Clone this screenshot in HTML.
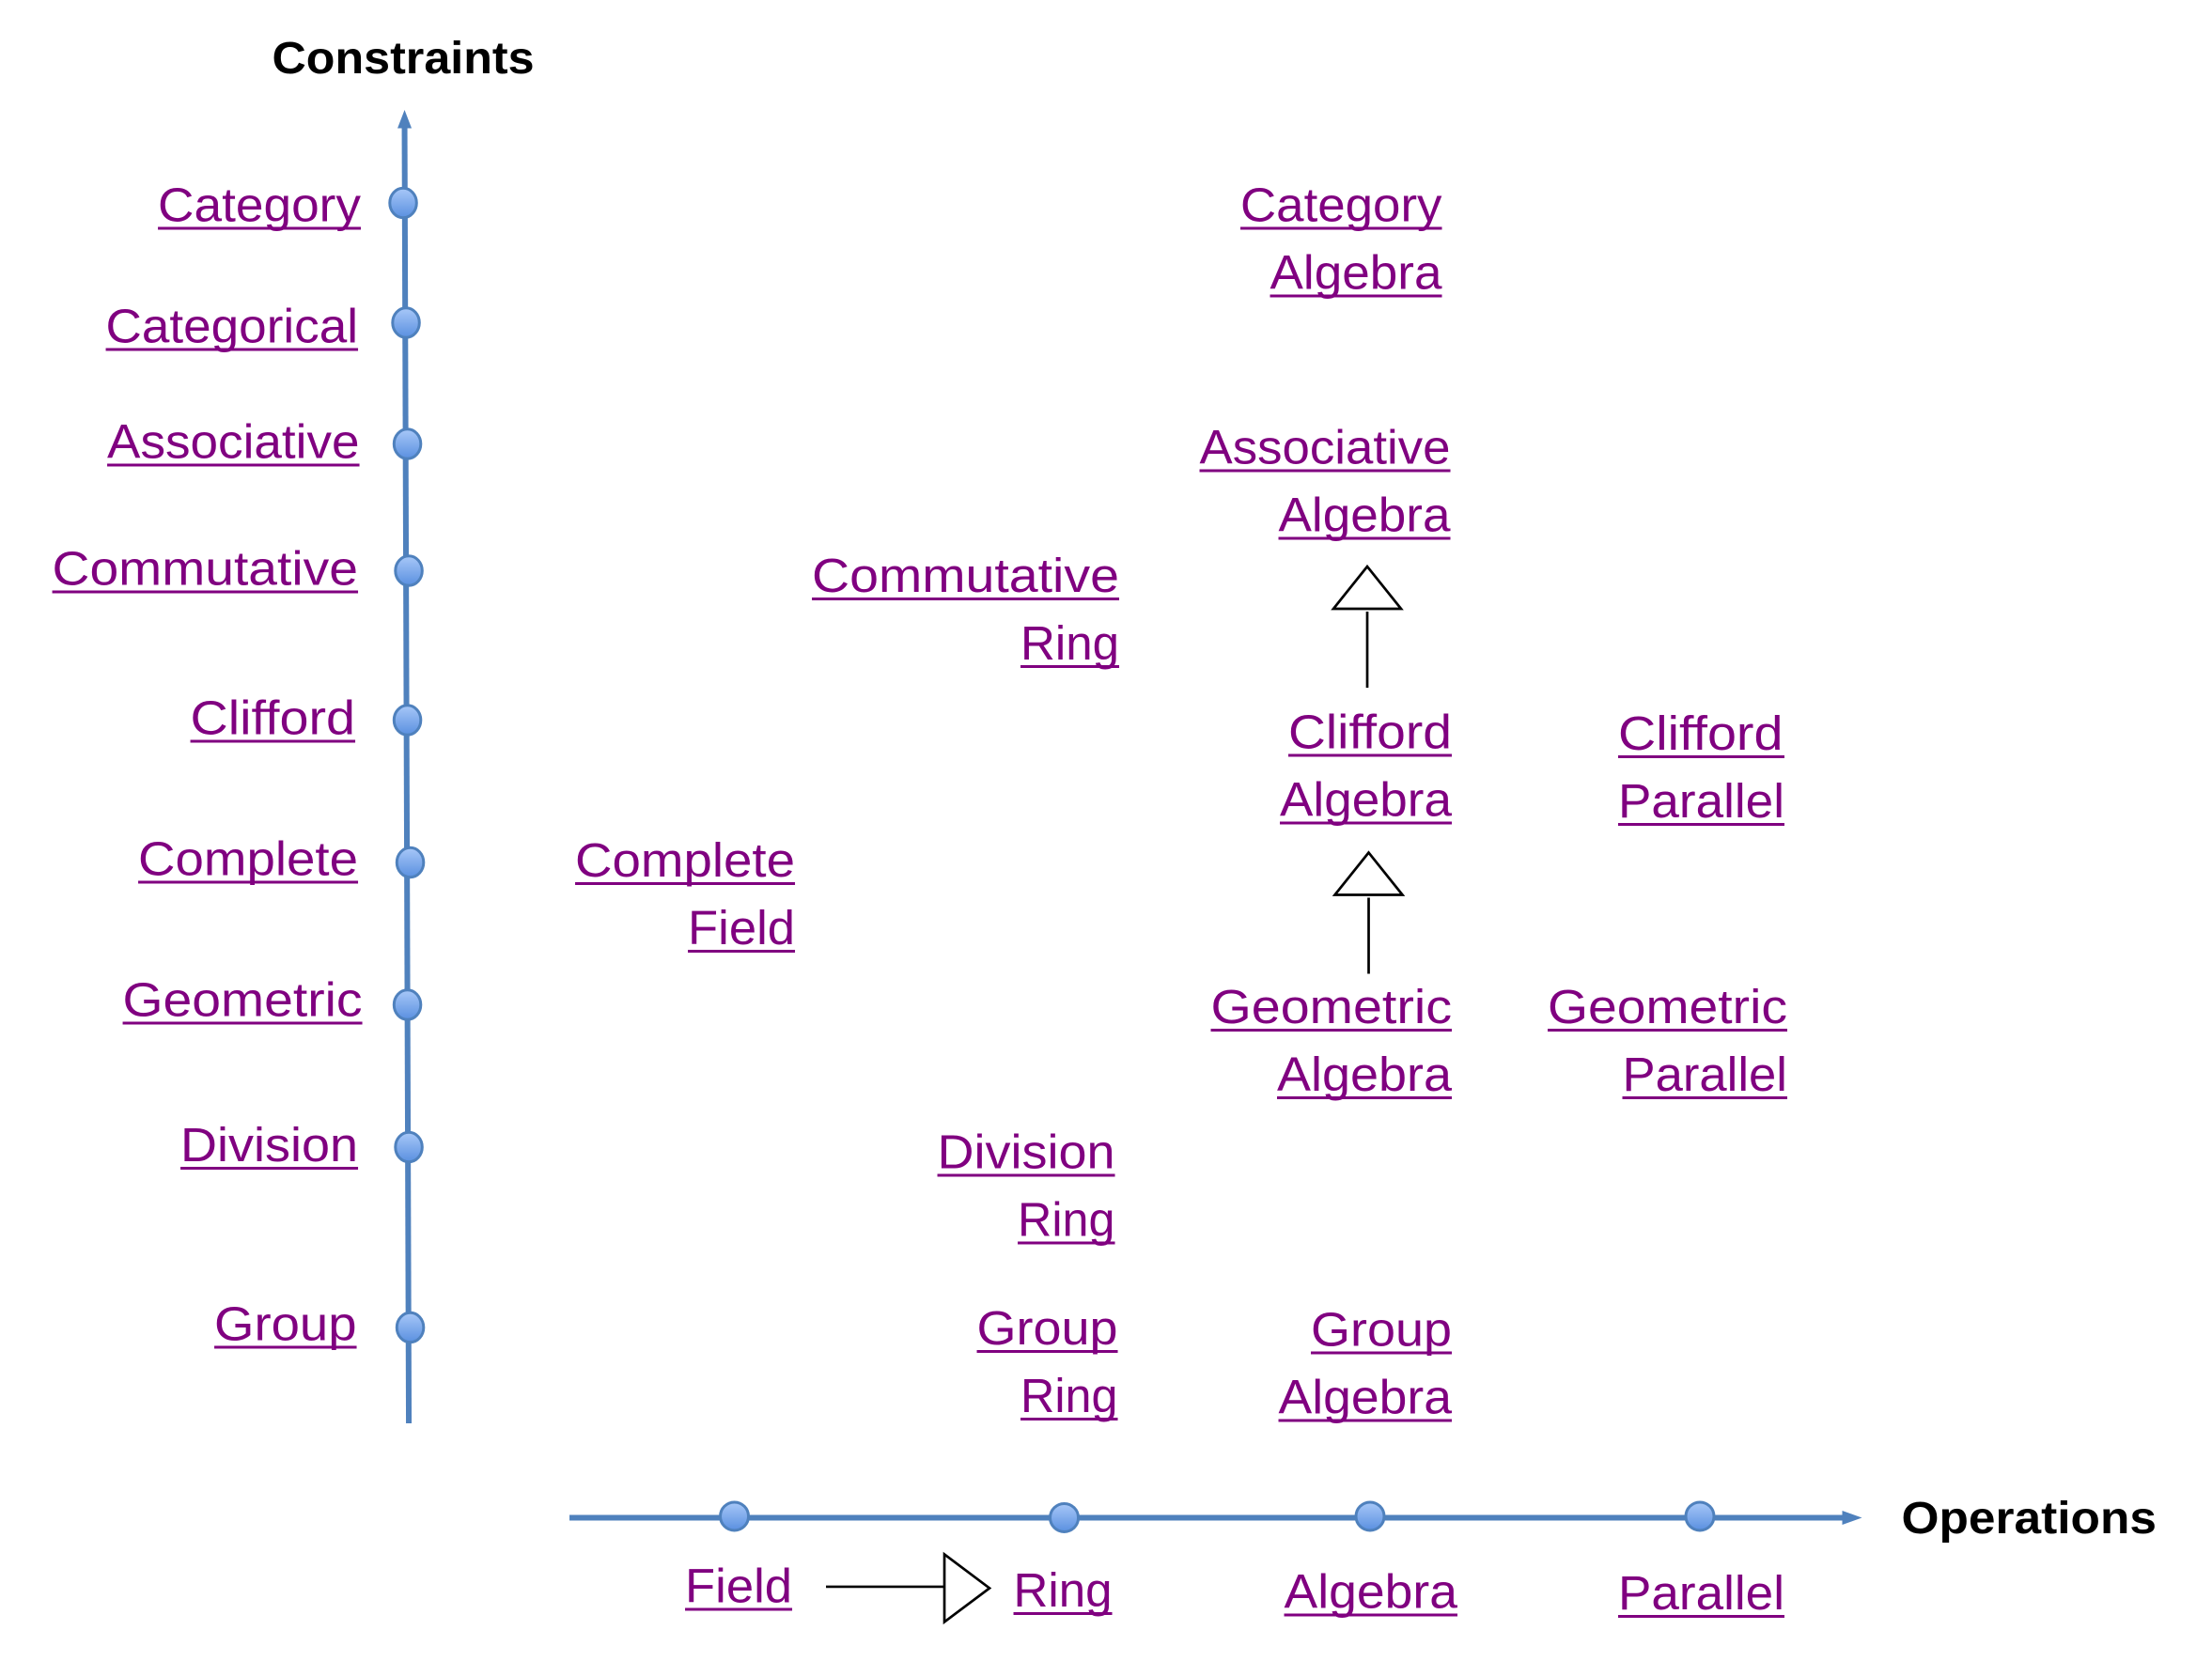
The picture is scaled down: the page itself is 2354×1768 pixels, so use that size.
<!DOCTYPE html>
<html><head><meta charset="utf-8"><style>
html,body{margin:0;padding:0;background:#fff;}
svg{display:block;}
.t{font-family:"Liberation Sans",sans-serif;font-size:34px;fill:#800080;}
.b{font-family:"Liberation Sans",sans-serif;font-size:32px;font-weight:bold;fill:#000;}
</style></head><body>
<svg width="2354" height="1768" viewBox="0 0 1569.3 1178.7" xmlns="http://www.w3.org/2000/svg">
<defs>
<linearGradient id="g" x1="0" y1="0" x2="0" y2="1"><stop offset="0" stop-color="#a8c8f8"/><stop offset="1" stop-color="#5a90e0"/></linearGradient>
</defs>
<text class="b" x="193" y="52" textLength="186" lengthAdjust="spacingAndGlyphs">Constraints</text>
<text class="b" x="1349" y="1088" textLength="181" lengthAdjust="spacingAndGlyphs">Operations</text>
<!-- vertical axis -->
<line x1="287" y1="90" x2="290" y2="1010" stroke="#4f81bd" stroke-width="4"/>
<polygon points="287,78 282,91 292,91" fill="#4f81bd"/>
<!-- horizontal axis -->
<line x1="404" y1="1077" x2="1308" y2="1077" stroke="#4f81bd" stroke-width="4"/>
<polygon points="1321,1077 1307,1072 1307,1082" fill="#4f81bd"/>
<g fill="url(#g)" stroke="#4f81bd" stroke-width="2">
<ellipse cx="286" cy="144" rx="9.5" ry="10.5"/>
<ellipse cx="288" cy="229" rx="9.5" ry="10.5"/>
<ellipse cx="289" cy="315" rx="9.5" ry="10.5"/>
<ellipse cx="290" cy="405" rx="9.5" ry="10.5"/>
<ellipse cx="289" cy="511" rx="9.5" ry="10.5"/>
<ellipse cx="291" cy="612" rx="9.5" ry="10.5"/>
<ellipse cx="289" cy="713" rx="9.5" ry="10.5"/>
<ellipse cx="290" cy="814" rx="9.5" ry="10.5"/>
<ellipse cx="291" cy="942" rx="9.5" ry="10.5"/>
<ellipse cx="521" cy="1076" rx="10" ry="10"/>
<ellipse cx="755" cy="1077" rx="10" ry="10"/>
<ellipse cx="972" cy="1076" rx="10" ry="10"/>
<ellipse cx="1206" cy="1076" rx="10" ry="10"/>
</g>
<!-- connectors -->
<g stroke="#000" stroke-width="1.8" fill="none">
<line x1="586" y1="1126" x2="670" y2="1126"/>
<polygon points="670,1103 702,1127 670,1151" fill="#fff"/>
<polygon points="970,402 946,432 994,432" fill="#fff"/>
<line x1="970" y1="434" x2="970" y2="488"/>
<polygon points="971,605 947,635 995,635" fill="#fff"/>
<line x1="971" y1="637" x2="971" y2="691"/>
</g>
<g class="t">
<!-- label: x1 x2 baseline -->
<text x="112" y="157" textLength="144" lengthAdjust="spacingAndGlyphs">Category</text>
<text x="75" y="243" textLength="179" lengthAdjust="spacingAndGlyphs">Categorical</text>
<text x="76" y="325" textLength="179" lengthAdjust="spacingAndGlyphs">Associative</text>
<text x="37" y="415" textLength="217" lengthAdjust="spacingAndGlyphs">Commutative</text>
<text x="135" y="521" textLength="117" lengthAdjust="spacingAndGlyphs">Clifford</text>
<text x="98" y="621" textLength="156" lengthAdjust="spacingAndGlyphs">Complete</text>
<text x="87" y="721" textLength="170" lengthAdjust="spacingAndGlyphs">Geometric</text>
<text x="128" y="824" textLength="126" lengthAdjust="spacingAndGlyphs">Division</text>
<text x="152" y="951" textLength="101" lengthAdjust="spacingAndGlyphs">Group</text>

<text x="880" y="157" textLength="143" lengthAdjust="spacingAndGlyphs">Category</text>
<text x="901" y="205" textLength="122" lengthAdjust="spacingAndGlyphs">Algebra</text>
<text x="851" y="329" textLength="178" lengthAdjust="spacingAndGlyphs">Associative</text>
<text x="907" y="377" textLength="122" lengthAdjust="spacingAndGlyphs">Algebra</text>
<text x="576" y="420" textLength="218" lengthAdjust="spacingAndGlyphs">Commutative</text>
<text x="724" y="468" textLength="70" lengthAdjust="spacingAndGlyphs">Ring</text>
<text x="914" y="531" textLength="116" lengthAdjust="spacingAndGlyphs">Clifford</text>
<text x="908" y="579" textLength="122" lengthAdjust="spacingAndGlyphs">Algebra</text>
<text x="1148" y="532" textLength="117" lengthAdjust="spacingAndGlyphs">Clifford</text>
<text x="1148" y="580" textLength="118" lengthAdjust="spacingAndGlyphs">Parallel</text>
<text x="408" y="622" textLength="156" lengthAdjust="spacingAndGlyphs">Complete</text>
<text x="488" y="670" textLength="76" lengthAdjust="spacingAndGlyphs">Field</text>
<text x="859" y="726" textLength="171" lengthAdjust="spacingAndGlyphs">Geometric</text>
<text x="906" y="774" textLength="124" lengthAdjust="spacingAndGlyphs">Algebra</text>
<text x="1098" y="726" textLength="170" lengthAdjust="spacingAndGlyphs">Geometric</text>
<text x="1151" y="774" textLength="117" lengthAdjust="spacingAndGlyphs">Parallel</text>
<text x="665" y="829" textLength="126" lengthAdjust="spacingAndGlyphs">Division</text>
<text x="722" y="877" textLength="69" lengthAdjust="spacingAndGlyphs">Ring</text>
<text x="693" y="954" textLength="100" lengthAdjust="spacingAndGlyphs">Group</text>
<text x="724" y="1002" textLength="69" lengthAdjust="spacingAndGlyphs">Ring</text>
<text x="930" y="955" textLength="100" lengthAdjust="spacingAndGlyphs">Group</text>
<text x="907" y="1003" textLength="123" lengthAdjust="spacingAndGlyphs">Algebra</text>

<text x="486" y="1137" textLength="76" lengthAdjust="spacingAndGlyphs">Field</text>
<text x="719" y="1140" textLength="70" lengthAdjust="spacingAndGlyphs">Ring</text>
<text x="911" y="1141" textLength="123" lengthAdjust="spacingAndGlyphs">Algebra</text>
<text x="1148" y="1142" textLength="118" lengthAdjust="spacingAndGlyphs">Parallel</text>
</g>
<!-- underlines -->
<g stroke="#800080" stroke-width="2">
<line x1="112" y1="162" x2="256" y2="162"/>
<line x1="75" y1="248" x2="254" y2="248"/>
<line x1="76" y1="330" x2="255" y2="330"/>
<line x1="37" y1="420" x2="254" y2="420"/>
<line x1="135" y1="526" x2="252" y2="526"/>
<line x1="98" y1="626" x2="254" y2="626"/>
<line x1="87" y1="726" x2="257" y2="726"/>
<line x1="128" y1="829" x2="254" y2="829"/>
<line x1="152" y1="956" x2="253" y2="956"/>

<line x1="880" y1="162" x2="1023" y2="162"/>
<line x1="901" y1="210" x2="1023" y2="210"/>
<line x1="851" y1="334" x2="1029" y2="334"/>
<line x1="907" y1="382" x2="1029" y2="382"/>
<line x1="576" y1="425" x2="794" y2="425"/>
<line x1="724" y1="473" x2="794" y2="473"/>
<line x1="914" y1="536" x2="1030" y2="536"/>
<line x1="908" y1="584" x2="1030" y2="584"/>
<line x1="1148" y1="537" x2="1266" y2="537"/>
<line x1="1148" y1="585" x2="1266" y2="585"/>
<line x1="408" y1="627" x2="564" y2="627"/>
<line x1="488" y1="675" x2="564" y2="675"/>
<line x1="859" y1="731" x2="1030" y2="731"/>
<line x1="906" y1="779" x2="1030" y2="779"/>
<line x1="1098" y1="731" x2="1268" y2="731"/>
<line x1="1151" y1="779" x2="1268" y2="779"/>
<line x1="665" y1="834" x2="791" y2="834"/>
<line x1="722" y1="882" x2="791" y2="882"/>
<line x1="693" y1="959" x2="793" y2="959"/>
<line x1="724" y1="1007" x2="793" y2="1007"/>
<line x1="930" y1="960" x2="1030" y2="960"/>
<line x1="907" y1="1008" x2="1030" y2="1008"/>
<line x1="486" y1="1142" x2="562" y2="1142"/>
<line x1="719" y1="1145" x2="789" y2="1145"/>
<line x1="911" y1="1146" x2="1034" y2="1146"/>
<line x1="1148" y1="1147" x2="1266" y2="1147"/>
</g>
</svg>
</body></html>
